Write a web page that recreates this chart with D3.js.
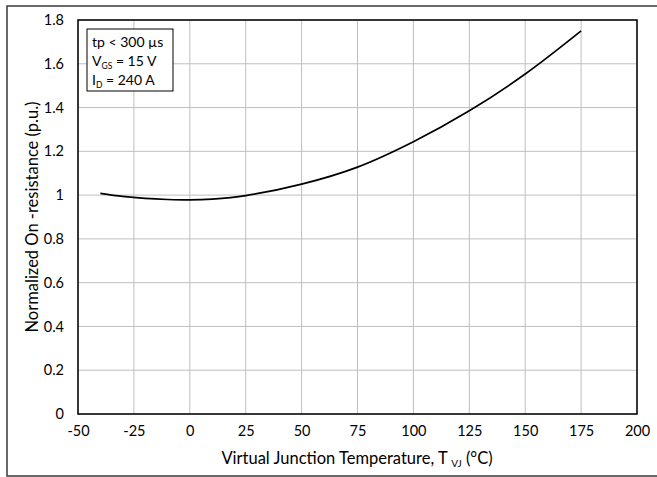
<!DOCTYPE html>
<html><head><meta charset="utf-8">
<script src="https://cdn.jsdelivr.net/npm/d3@7"></script>
<style>body{margin:0;background:#fff}svg{display:block}text{font-family:Lato,"Open Sans",sans-serif;fill:#000}</style>
</head><body><svg id="c" width="657" height="477"></svg>
<script>
const temps = [-40,-30,-20,-10,0,10,25,50,75,100,125,150,175];
const rdson = [1.008,0.994,0.985,0.980,0.978,0.982,0.998,1.050,1.128,1.244,1.385,1.553,1.75];
const xTicks = [-50,-25,0,25,50,75,100,125,150,175,200];
const yTicks = [0,0.2,0.4,0.6,0.8,1,1.2,1.4,1.6,1.8];
const legendLines = [["tp < 300 µs"],["V","GS"," = 15 V"],["I","D"," = 240 A"]];

const svg = d3.select("#c");
const m = {l:78,t:20,r:637,b:414};
const x = d3.scaleLinear().domain([-50,200]).range([m.l,m.r]);
const y = d3.scaleLinear().domain([0,1.8]).range([m.b,m.t]);

svg.append("rect").attr("x",7).attr("y",6).attr("width",660).attr("height",470)
  .attr("fill","none").attr("stroke","#3a3a3a").attr("stroke-width",1.5);

const g = svg.append("g");
g.selectAll(".gx").data(xTicks).join("line").attr("x1",d=>x(d)).attr("x2",d=>x(d))
  .attr("y1",m.t).attr("y2",m.b).attr("stroke","#bfbfbf").attr("stroke-width",1);
g.selectAll(".gy").data(yTicks).join("line").attr("y1",d=>y(d)).attr("y2",d=>y(d))
  .attr("x1",m.l).attr("x2",m.r).attr("stroke","#bfbfbf").attr("stroke-width",1);

svg.append("rect").attr("x",m.l).attr("y",m.t).attr("width",m.r-m.l).attr("height",m.b-m.t)
  .attr("fill","none").attr("stroke","#000").attr("stroke-width",1.5);

const xa = svg.append("g").attr("transform",`translate(0,${m.b})`)
  .call(d3.axisBottom(x).tickValues(xTicks).tickSize(0).tickPadding(12).tickFormat(d=>d));
xa.select(".domain").remove();
xa.selectAll("text").style("font-size","14.5px").style("font-family","Lato,'Open Sans',sans-serif");
const ya = svg.append("g").attr("transform",`translate(${m.l},0)`)
  .call(d3.axisLeft(y).tickValues(yTicks).tickSize(0).tickPadding(14).tickFormat(d=>d3.format("")(d)));
ya.select(".domain").remove();
ya.selectAll("text").style("font-size","14.5px").style("font-family","Lato,'Open Sans',sans-serif");

const line = d3.line().x((d,i)=>x(temps[i])).y(d=>y(d)).curve(d3.curveCatmullRom.alpha(0.5));
svg.append("path").datum(rdson).attr("d",line).attr("fill","none").attr("stroke","#000").attr("stroke-width",1.7);

// legend
svg.append("rect").attr("x",87).attr("y",29).attr("width",86).attr("height",62)
  .attr("fill","#fff").attr("stroke","#000").attr("stroke-width",1);
legendLines.forEach((ln,i)=>{
  const t = svg.append("text").attr("x",92).attr("y",47+i*19).style("font-size","14px");
  if(ln.length===1){ t.text(ln[0]); }
  else {
    t.append("tspan").text(ln[0]);
    t.append("tspan").attr("dy",3).style("font-size","8.5px").text(ln[1]);
    t.append("tspan").attr("dy",-3).text(ln[2]);
  }
});

// x title
const xt = svg.append("text").attr("x",357).attr("y",464).attr("text-anchor","middle").style("font-size","16.5px");
xt.append("tspan").text("Virtual Junction Temperature, T ");
xt.append("tspan").attr("dy",3).style("font-size","10px").text("VJ");
xt.append("tspan").attr("dy",-3).text(" (°C)");

svg.append("text").attr("transform","translate(38,217) rotate(-90)").attr("text-anchor","middle")
  .style("font-size","16.5px").text("Normalized On -resistance (p.u.)");
</script></body></html>
